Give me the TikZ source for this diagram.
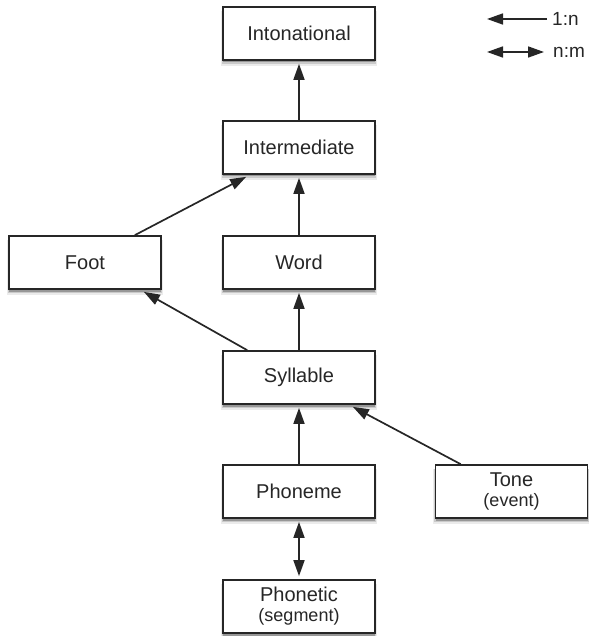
\documentclass[tikz,border=0pt]{standalone}
\usepackage{fontspec}
\setmainfont{Liberation Sans}
\usetikzlibrary{arrows.meta,shadows,calc}
\begin{document}
\begin{tikzpicture}[x=1pt,y=-1pt,
  box/.style={draw=black!85, line width=1.7pt, fill=white,
    minimum width=152pt, minimum height=53pt, inner sep=0pt,
    align=center, text=black!85, font=\fontsize{20}{20}\selectfont,
    drop shadow={shadow xshift=0pt, shadow yshift=-5pt, opacity=0.08, fill=black, shadow scale=1.03},
    drop shadow={shadow xshift=0pt, shadow yshift=-4pt, opacity=0.14, fill=black, shadow scale=1.015},
    drop shadow={shadow xshift=0pt, shadow yshift=-2.5pt, opacity=0.25, fill=black}},
  legend/.style={anchor=west, inner sep=0pt, text=black!85, font=\fontsize{19}{19}\selectfont},
  conn/.style={line width=1.7pt, draw=black!85, -{Triangle[length=16pt,width=11pt]}},
  bidir/.style={line width=1.7pt, draw=black!85, {Triangle[length=16pt,width=11pt]}-{Triangle[length=16pt,width=11pt]}},
]
\useasboundingbox (0,0) rectangle (588,636);

\node[box] (inton) at (299,33.5) {Intonational};
\node[box] (inter) at (299,147.5) {Intermediate};
\node[box] (foot) at (85,262.5) {Foot};
\node[box] (word) at (299,262.5) {Word};
\node[box] (syll) at (299,377.5) {Syllable};
\node[box] (phon) at (299,491.5) {Phoneme};
\node[box] (tone) at (511.5,491.5) {Tone\\{\fontsize{18}{20}\selectfont(event)}};
\node[box] (phtc) at (299,606.5) {Phonetic\\{\fontsize{18}{20}\selectfont(segment)}};

\draw[conn, shorten >=3pt] (inter.north) -- (inton.south);
\draw[conn, shorten >=3pt] (word.north) -- (inter.south);
\draw[conn, shorten >=3pt] (syll.north) -- (word.south);
\draw[conn, shorten >=3pt] (phon.north) -- (syll.south);
\draw[bidir, shorten >=3pt, shorten <=3pt] (phon.south) -- (phtc.north);

\draw[conn] ($(foot.north east)+(-27,0)$) -- ($(inter.south west)+(24,2)$);
\draw[conn] ($(syll.north west)+(25,0)$) -- ($(foot.south east)+(-18,2)$);
\draw[conn] ($(tone.north west)+(26,0)$) -- ($(syll.south east)+(-23,2)$);

\node[legend] (l1) at (552,19) {1:n};
\coordinate (l1a) at (487,19);
\draw[conn] ([xshift=-5pt]l1.west) -- (l1a);

\node[legend] (l2) at (553,52) {n:m};
\coordinate (l2a) at (487,52);
\draw[bidir] ([xshift=-9pt]l2.west) -- (l2a);
\end{tikzpicture}
\end{document}
